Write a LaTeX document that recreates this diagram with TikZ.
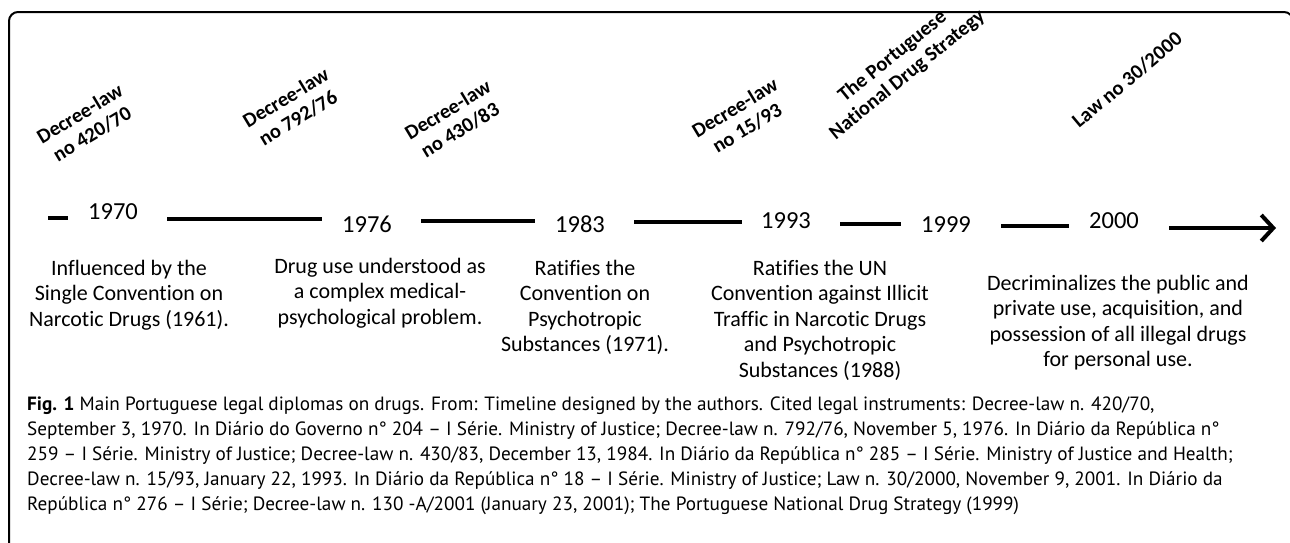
\documentclass[tikz,border=0pt]{standalone}
\usepackage{fontspec}
\setmainfont{Carlito}[Ligatures=NoCommon]
\newfontfamily\capfont{PT Sans}
\usetikzlibrary{arrows.meta,positioning}

\tikzset{
  year/.style={font=\fontsize{24.5}{28}\selectfont, inner sep=0pt},
  law/.style={font=\fontsize{20.5}{23.5}\selectfont\bfseries, align=center, rotate=31, inner sep=0pt},
  desc/.style={font=\fontsize{22}{25.5}\selectfont, align=center, inner sep=0pt, anchor=north},
  bar/.style={line width=4pt},
}

\begin{document}
\begin{tikzpicture}[x=1pt,y=-1pt]
  \useasboundingbox (0,0) rectangle (1290,542);
  % frame, cut off at the right and bottom
  \begin{scope}
    \clip (0,0) rectangle (1290,542);
    \draw[line width=2pt, rounded corners=9pt] (9,12) rectangle (1293,570);
  \end{scope}

  % laws
  \node[law] (l1) at (86,124) {Decree-law\\no 420/70};
  \node[law] (l2) at (292,108) {Decree-law\\no 792/76};
  \node[law] (l3) at (454,120) {Decree-law\\no 430/83};
  \node[law] (l4) at (741,118) {Decree-law\\no 15/93};
  \node[law, rotate=8] (l5) at (900,66) {The Portuguese\\National Drug Strategy};
  \node[law, rotate=9] (l6) at (1127,80) {Law no 30/2000};

  % years
  \node[year] (y1970) at (113,212) {1970};
  \node[year] (y1976) at (367,224) {1976};
  \node[year] (y1983) at (580,224) {1983};
  \node[year] (y1993) at (786,221) {1993};
  \node[year] (y1999) at (946,225) {1999};
  \node[year] (y2000) at (1114,221) {2000};

  % timeline
  \foreach \xa/\xb/\yy [count=\i] in {48/68/218, 167/322/219, 421/535/221, 634/742/222, 840/901/224, 1001/1069/226}{
    \coordinate (s\i a) at (\xa,\yy);
    \coordinate (s\i b) at (\xb,\yy);
    \draw[bar] (s\i a) -- (s\i b);
  }
  \coordinate (ar1) at (1169,228);
  \coordinate (ar2) at (1276,228);
  \draw[bar, -{Straight Barb[length=12pt,width=26pt]}] (ar1) -- (ar2);

  % what each one did
  \node[desc] (d1) at (129,260) {Influenced by the\\Single Convention on\\Narcotic Drugs (1961).};
  \node[desc] (d2) at (380,258) {Drug use understood as\\a complex medical-\\psychological problem.};
  \node[desc] (d3) at (585,260) {Ratifies the\\Convention on\\Psychotropic\\Substances (1971).};
  \node[desc] (d4) at (820,260) {Ratifies the UN\\Convention against Illicit\\Traffic in Narcotic Drugs\\and Psychotropic\\Substances (1988)};
  \node[desc] (d5) at (1118,275) {Decriminalizes the public and\\private use, acquisition, and\\possession of all illegal drugs\\for personal use.};

  % caption
  \node[anchor=north west, align=left, inner sep=0pt, font=\capfont\fontsize{19.2}{25}\selectfont] (cap) at (27,397)
    {\textbf{Fig. 1} Main Portuguese legal diplomas on drugs. From: Timeline designed by the authors. Cited legal instruments: Decree-law n. 420/70,\\
     September 3, 1970. In Diário do Governo n° 204 – I Série. Ministry of Justice; Decree-law n. 792/76, November 5, 1976. In Diário da República n°\\
     259 – I Série. Ministry of Justice; Decree-law n. 430/83, December 13, 1984. In Diário da República n° 285 – I Série. Ministry of Justice and Health;\\
     Decree-law n. 15/93, January 22, 1993. In Diário da República n° 18 – I Série. Ministry of Justice; Law n. 30/2000, November 9, 2001. In Diário da\\
     República n° 276 – I Série; Decree-law n. 130 -A/2001 (January 23, 2001); The Portuguese National Drug Strategy (1999)};
\end{tikzpicture}
\end{document}
